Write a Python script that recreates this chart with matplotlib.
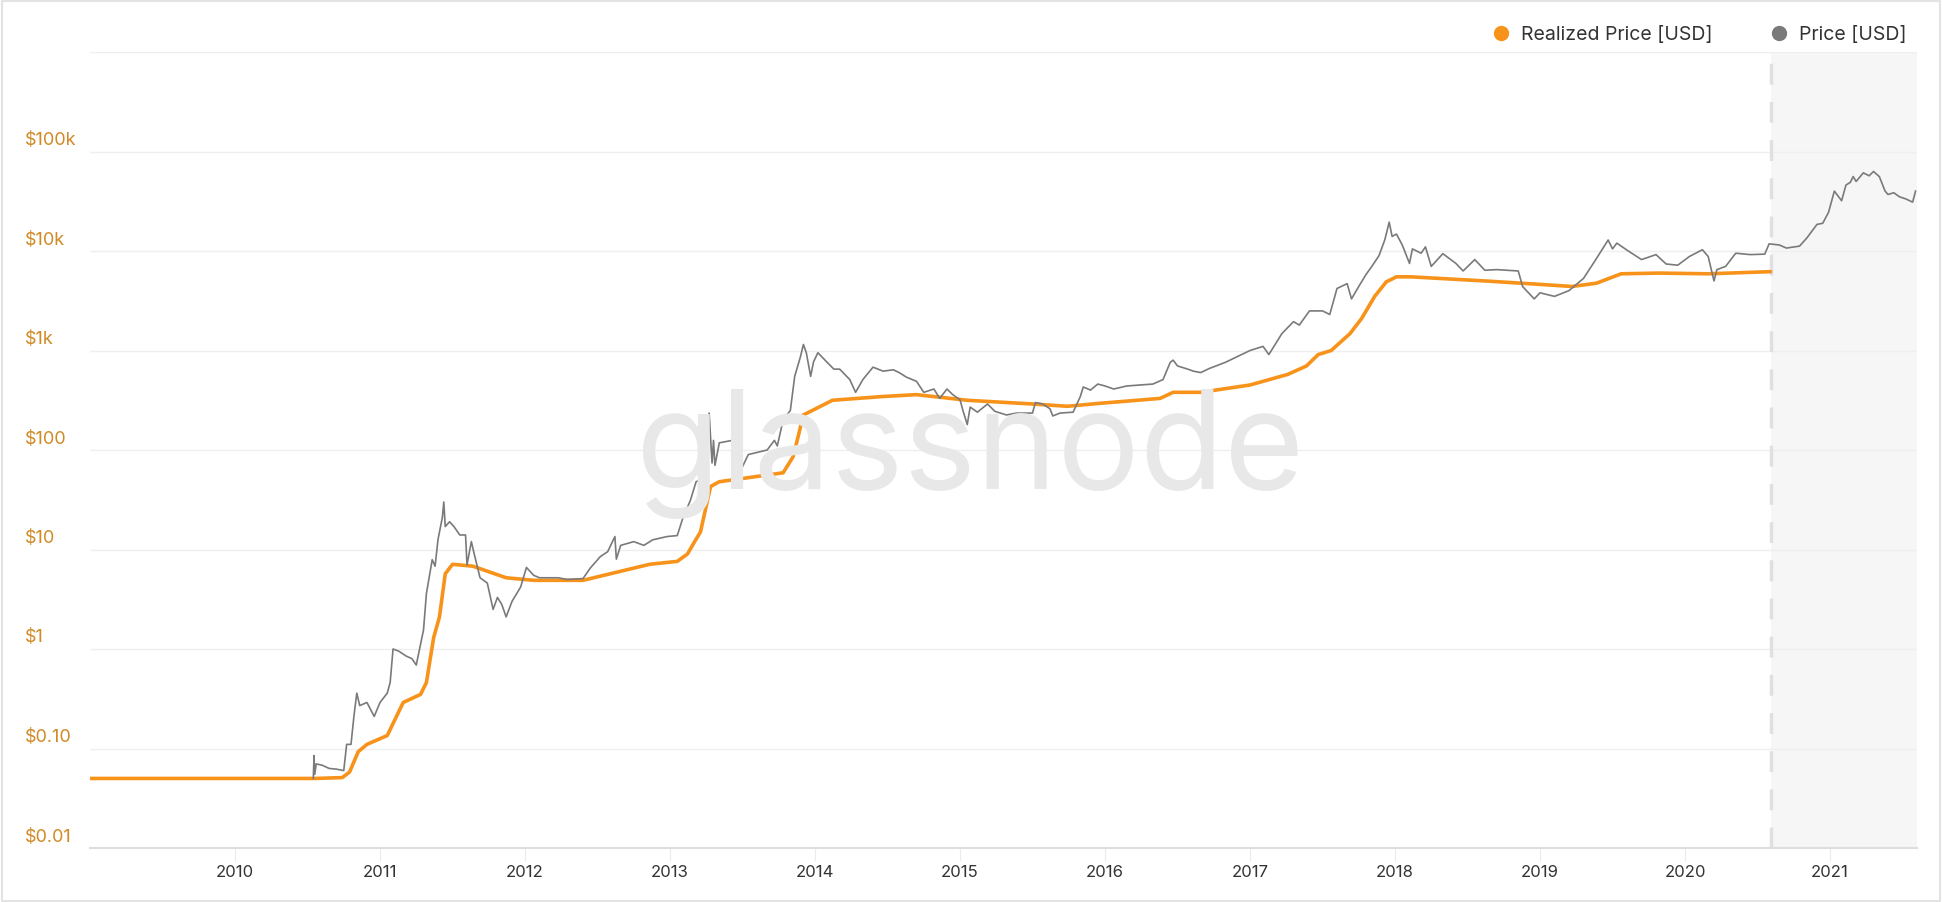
import matplotlib
matplotlib.use("Agg")
import matplotlib.pyplot as plt
import matplotlib.transforms as mtransforms
from matplotlib.lines import Line2D
from matplotlib.patches import Rectangle

# realized price, x in decimal years
rp_year = [2009.0, 2010.55, 2010.74, 2010.79, 2010.85, 2010.91, 2011.05, 2011.16, 2011.28, 2011.32,
           2011.37, 2011.41, 2011.45, 2011.50, 2011.64, 2011.87, 2012.06, 2012.40, 2012.63, 2012.86,
           2013.05, 2013.12, 2013.17, 2013.21, 2013.28, 2013.34, 2013.78, 2013.85, 2013.92, 2014.12,
           2014.47, 2014.70, 2015.05, 2015.50, 2015.74, 2015.97, 2016.38, 2016.47, 2016.66, 2017.0,
           2017.26, 2017.39, 2017.47, 2017.56, 2017.69, 2017.77, 2017.86, 2017.94, 2018.01, 2018.11,
           2018.62, 2018.97, 2019.22, 2019.39, 2019.56, 2019.82, 2020.16, 2020.59]
rp_usd = [0.05, 0.05, 0.051, 0.058, 0.093, 0.11, 0.135, 0.29, 0.35, 0.46,
          1.3, 2.1, 5.7, 7.1, 6.8, 5.2, 4.9, 4.9, 5.9, 7.1,
          7.6, 9, 12, 15, 43, 48, 59, 86, 225, 316,
          345, 360, 316, 290, 275, 295, 330, 380, 380, 450,
          575, 700, 910, 1000, 1480, 2100, 3500, 4900, 5500, 5500,
          5000, 4650, 4400, 4750, 5900, 6000, 5900, 6200]

# market price
px_year = [2010.54, 2010.545, 2010.55, 2010.56, 2010.60, 2010.65, 2010.70, 2010.75, 2010.77, 2010.80,
           2010.82, 2010.84, 2010.86, 2010.91, 2010.96, 2011.0, 2011.05, 2011.07, 2011.09, 2011.13,
           2011.18, 2011.22, 2011.25, 2011.30, 2011.32, 2011.36, 2011.38, 2011.40, 2011.43, 2011.44,
           2011.45, 2011.48, 2011.51, 2011.55, 2011.59, 2011.60, 2011.63, 2011.65, 2011.69, 2011.74,
           2011.78, 2011.81, 2011.84, 2011.87, 2011.91, 2011.97, 2012.01, 2012.06, 2012.10, 2012.17,
           2012.23, 2012.29, 2012.40, 2012.45, 2012.52, 2012.57, 2012.62, 2012.63, 2012.66, 2012.75,
           2012.82, 2012.88, 2012.98, 2013.05, 2013.09, 2013.14, 2013.18, 2013.21, 2013.24, 2013.27,
           2013.29, 2013.30, 2013.31, 2013.34, 2013.43, 2013.50, 2013.54, 2013.67, 2013.72, 2013.74,
           2013.78, 2013.83, 2013.86, 2013.90, 2013.92, 2013.94, 2013.97, 2013.99, 2014.02, 2014.08,
           2014.13, 2014.17, 2014.24, 2014.28, 2014.33, 2014.40, 2014.47, 2014.54, 2014.58, 2014.63,
           2014.70, 2014.75, 2014.82, 2014.86, 2014.91, 2014.95, 2015.0, 2015.02, 2015.05, 2015.07,
           2015.12, 2015.19, 2015.24, 2015.32, 2015.39, 2015.50, 2015.52, 2015.57, 2015.62, 2015.64,
           2015.69, 2015.78, 2015.83, 2015.85, 2015.90, 2015.95, 2016.0, 2016.06, 2016.15, 2016.33,
           2016.40, 2016.45, 2016.47, 2016.50, 2016.57, 2016.61, 2016.66, 2016.72, 2016.83, 2017.0,
           2017.09, 2017.13, 2017.22, 2017.30, 2017.34, 2017.41, 2017.50, 2017.55, 2017.60, 2017.67,
           2017.70, 2017.75, 2017.80, 2017.84, 2017.89, 2017.93, 2017.96, 2017.98, 2018.01, 2018.05,
           2018.10, 2018.12, 2018.18, 2018.21, 2018.25, 2018.33, 2018.42, 2018.47, 2018.55, 2018.62,
           2018.70, 2018.78, 2018.85, 2018.88, 2018.96, 2019.0, 2019.10, 2019.20, 2019.30, 2019.38,
           2019.47, 2019.50, 2019.53, 2019.60, 2019.70, 2019.80, 2019.87, 2019.95, 2020.03, 2020.12,
           2020.16, 2020.20, 2020.22, 2020.28, 2020.35, 2020.45, 2020.55, 2020.58, 2020.65, 2020.70,
           2020.79, 2020.84, 2020.91, 2020.95, 2020.99, 2021.03, 2021.08, 2021.11, 2021.14, 2021.16,
           2021.18, 2021.23, 2021.27, 2021.30, 2021.34, 2021.38, 2021.40, 2021.44, 2021.48, 2021.52,
           2021.57, 2021.59]
px_usd = [0.05, 0.085, 0.055, 0.07, 0.068, 0.063, 0.062, 0.06, 0.11, 0.11,
          0.21, 0.36, 0.27, 0.29, 0.21, 0.29, 0.36, 0.46, 1.0, 0.95,
          0.85, 0.8, 0.69, 1.55, 3.6, 7.9, 6.8, 12.6, 21, 30,
          17, 19, 17, 14, 14, 7, 12, 9, 5.2, 4.6,
          2.5, 3.3, 2.8, 2.1, 3.0, 4.2, 6.6, 5.5, 5.2, 5.2,
          5.2, 5.0, 5.1, 6.5, 8.5, 9.5, 13.5, 8, 11, 12,
          11, 12.5, 13.5, 13.8, 21, 31, 48, 50, 118, 235,
          74, 125, 70, 118, 125, 68, 90, 100, 125, 110,
          200, 250, 550, 870, 1150, 950, 550, 770, 950, 770,
          650, 650, 510, 380, 510, 680, 620, 640, 600, 540,
          490, 380, 410, 330, 410, 360, 320, 250, 180, 270,
          240, 290, 245, 225, 235, 235, 300, 290, 260, 220,
          235, 240, 345, 430, 400, 460, 440, 410, 440, 460,
          510, 760, 800, 700, 650, 620, 600, 660, 760, 1000,
          1100, 910, 1480, 1950, 1800, 2500, 2500, 2300, 4200, 4700,
          3300, 4400, 5800, 7000, 9000, 13000, 19500, 14000, 14800, 11500,
          7500, 10500, 9500, 11000, 7000, 9400, 7500, 6300, 8200, 6400,
          6500, 6400, 6300, 4400, 3300, 3800, 3500, 4000, 5300, 8000,
          12900, 10500, 12000, 10200, 8200, 9200, 7400, 7200, 8800, 10300,
          8800, 5000, 6500, 7000, 9500, 9200, 9300, 11800, 11500, 10700,
          11200, 13500, 18500, 19000, 24500, 40000, 32000, 46000, 49000, 56000,
          50000, 61000, 57000, 63000, 56000, 40000, 37000, 38500, 35000, 33500,
          31000, 40000]

y_ticks = [0.01, 0.1, 1, 10, 100, 1000, 10000, 100000]
y_labels = ["$0.01", "$0.10", "$1", "$10", "$100", "$1k", "$10k", "$100k"]
x_ticks = list(range(2010, 2022))
forecast_start = 2020.59

plt.rcParams['font.family'] = ['Inter', 'DejaVu Sans']

fig = plt.figure(figsize=(19.42, 9.02), dpi=100)
ax = fig.add_axes([90 / 1942, 1 - 848 / 902, (1917 - 90) / 1942, (848 - 52) / 902])

ax.set_yscale('log')
ax.set_ylim(0.01, 1e6)
ax.set_xlim(2009.0, 2021.6)

# grey shaded region after the dashed line
ax.axvspan(forecast_start, 2021.6, color='#f6f6f6', zorder=0, lw=0)
ax.axvline(forecast_start, color='#e0e0e0', lw=2.5, dashes=(6, 5), zorder=1)

for v in y_ticks + [1e6]:
    ax.axhline(v, color='#efefef', lw=1, zorder=0.5)

# watermark
fig.text(0.4995, 1 - 489 / 902, "glassnode", fontsize=99, color='#e8e8e8',
         ha='center', va='baseline', zorder=0.8)

ax.plot(rp_year, rp_usd, color='#f7931a', lw=2.6, zorder=3, solid_capstyle='round')
ax.plot(px_year, px_usd, color='#7a7a7a', lw=1.2, zorder=4)

ax.set_yticks(y_ticks)
ax.set_yticklabels([])
ax.minorticks_off()
ax.tick_params(axis='y', length=0)
lab_tr = mtransforms.offset_copy(ax.get_yaxis_transform(), fig=fig, x=0, y=11, units='dots')
for v, s in zip(y_ticks, y_labels):
    ax.text((25 - 90) / (1917 - 90), v, s, transform=lab_tr, ha='left', va='center',
            fontsize=13, color='#d08a26')

ax.set_xticks(x_ticks)
ax.set_xticklabels([str(y) for y in x_ticks], fontsize=12, color='#333333')
ax.tick_params(axis='x', length=9, color='#ececec', pad=3)

for side in ['top', 'right', 'left']:
    ax.spines[side].set_visible(False)
ax.spines['bottom'].set_color('#dedede')
ax.spines['bottom'].set_linewidth(1.5)

handles = [Line2D([], [], marker='o', ls='', color='#f7931a', markersize=10),
           Line2D([], [], marker='o', ls='', color='#7a7a7a', markersize=10)]
fig.legend(handles, ["Realized Price [USD]", "Price [USD]"], loc='center right',
           bbox_to_anchor=(1924 / 1942, 1 - 35 / 902), ncol=2, frameon=False,
           fontsize=14, handletextpad=0.05, columnspacing=2.4, labelcolor='#333333')

fig.add_artist(Rectangle((0.0008, 0.001), 0.9984, 0.998, transform=fig.transFigure,
                         fill=False, edgecolor='#e3e3e3', lw=1.5))

fig.savefig("out.png", dpi=100)
